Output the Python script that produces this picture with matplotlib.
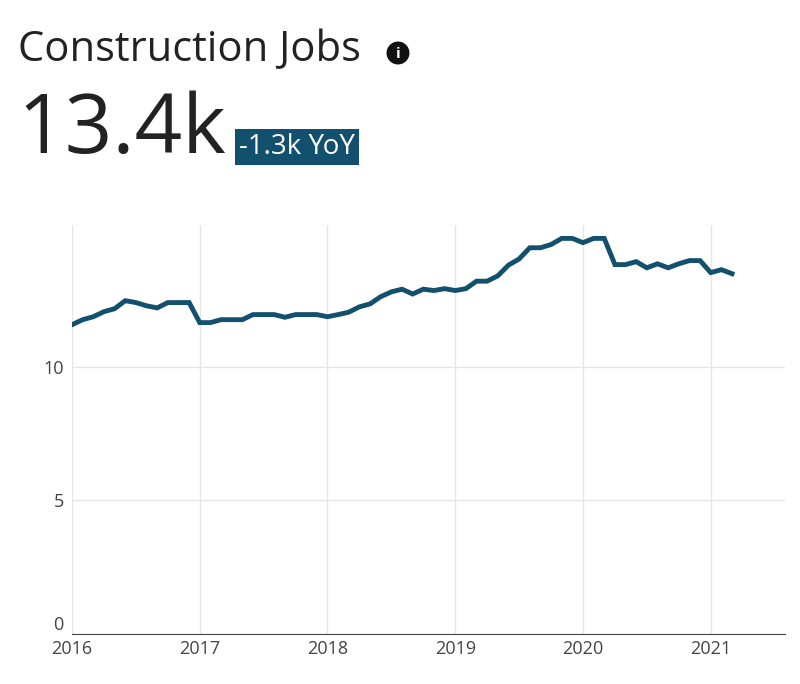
import matplotlib
matplotlib.use("Agg")
import matplotlib.pyplot as plt
import numpy as np

values = [11.57,11.76,11.87,12.06,12.17,12.47,12.4,12.28,12.2,12.4,12.4,12.4,
          11.65,11.65,11.76,11.76,11.76,11.95,11.95,11.95,11.85,11.95,11.95,11.95,
          11.87,11.95,12.04,12.24,12.35,12.62,12.8,12.9,12.72,12.9,12.85,12.92,
          12.85,12.92,13.2,13.2,13.4,13.8,14.03,14.45,14.45,14.57,14.8,14.8,
          14.64,14.8,14.8,13.82,13.82,13.93,13.7,13.85,13.7,13.85,13.97,13.97,
          13.52,13.63,13.48]
start_year = 2016
x_ticks = [2016, 2017, 2018, 2019, 2020, 2021]
y_ticks = [0, 5, 10]
title = "Construction Jobs"
headline = "13.4k"
badge = "-1.3k YoY"

color = "#12506e"
plt.rcParams["font.family"] = "Open Sans"
fig = plt.figure(figsize=(8, 6.84), dpi=100)
ax = fig.add_axes([0.09, 0.073, 0.891, 0.598])
x = start_year + np.arange(len(values)) / 12
ax.plot(x, values, color=color, lw=3.5, solid_joinstyle="miter")
ax.set_xlim(2016, 2021.58)
ax.set_ylim(0, 15.3)
ax.set_xticks(x_ticks)
ax.set_yticks(y_ticks)
ax.grid(True, color="#e6e6e6", lw=1)
ax.set_axisbelow(True)
for s in ["top", "right", "left"]:
    ax.spines[s].set_visible(False)
ax.spines["bottom"].set_color("#444444")
ax.tick_params(axis="both", length=0, labelsize=13, colors="#444444")
ax.tick_params(axis="x", pad=4)
ax.tick_params(axis="y", pad=6)
for lbl in ax.get_yticklabels():
    if lbl.get_text() == "0":
        lbl.set_va("bottom")

fig.text(0.022, 0.927, title, fontsize=30, color="#222222", va="center")
ax_icon = fig.add_axes([0.4825, 0.905, 0.03, 0.035])
ax_icon.axis("off")
ax_icon.add_patch(plt.Circle((0.5, 0.5), 0.45, color="#111111"))
ax_icon.text(0.5, 0.47, "i", color="white", fontsize=11, fontweight="bold", ha="center", va="center")
ax_icon.set_xlim(0, 1); ax_icon.set_ylim(0, 1); ax_icon.set_aspect("equal")
fig.text(0.022, 0.808, headline, fontsize=60, color="#222222", va="center")
fig.text(0.299, 0.785, badge, fontsize=20, color="white", va="center",
         bbox=dict(boxstyle="square,pad=0.15", fc=color, ec="none"))
fig.savefig("out.png", dpi=100)
